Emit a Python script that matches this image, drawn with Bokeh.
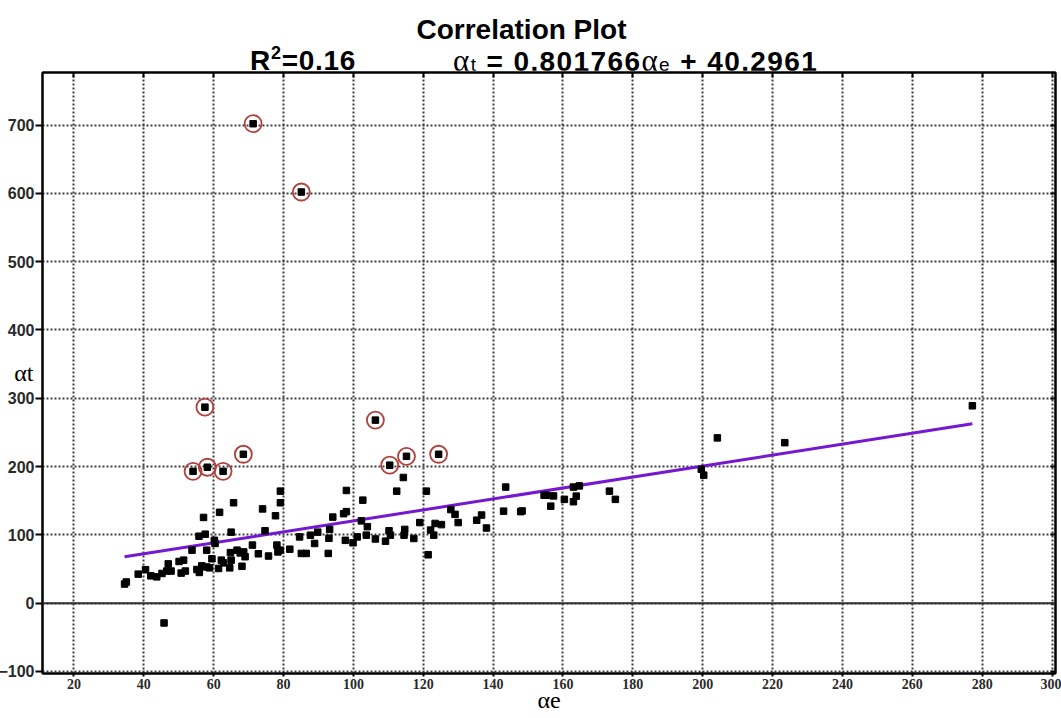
from bokeh.plotting import figure
from bokeh.models import Range1d, Span, FixedTicker, Div, LinearAxis, CustomJSTickFormatter
from bokeh.layouts import column
from bokeh.embed import file_html
from bokeh.resources import INLINE

# ---- data ----
alpha_e = [34.5, 35.0, 38.4, 40.5, 42.0, 43.7, 45.2, 46.6, 47.8, 47.0, 50.1, 51.4, 50.7, 51.9,
           53.8, 55.2, 55.9, 57.1, 55.8, 57.6, 58.0, 56.6, 58.0, 58.8, 60.2, 60.4, 59.5, 61.7,
           61.4, 62.2, 62.8, 64.8, 65.7, 65.0, 65.0, 66.7, 67.6, 68.6, 64.6, 68.1, 69.0, 71.1,
           72.8, 74.0, 74.7, 75.7, 77.7, 78.1, 78.4, 79.1, 79.1, 79.1, 81.8, 84.6, 85.1, 86.5,
           87.7, 88.9, 89.8, 92.8, 93.0, 93.2, 94.1, 97.7, 97.2, 98.0, 98.0, 99.9, 101.1, 102.3,
           102.7, 104.0, 103.7, 106.3, 109.2, 110.2, 110.6, 112.4, 114.3, 114.5, 114.7, 117.3,
           119.0, 120.9, 121.4, 122.1, 123.0, 123.4, 125.2, 127.9, 129.1, 130.0, 135.3, 136.7,
           138.1, 143.6, 143.0, 147.9, 148.3, 154.6, 155.3, 156.5, 157.3, 160.4, 163.0, 164.7,
           163.0, 163.8, 173.3, 175.0, 199.6, 200.3, 204.2, 223.5, 277.2, 45.8]
alpha_t = [28, 31, 42.5, 49, 40, 38.5, 43.5, 47, 47, 57.5, 61, 63, 44, 47,
           77.6, 49.3, 45, 125.5, 98, 101, 77.6, 54.6, 53, 51.7, 92, 87.4, 65, 133,
           50.8, 63, 59, 74, 147, 104, 63, 77.6, 73.6, 75, 51.7, 54, 68, 85,
           72.3, 138, 106, 69, 128, 85, 75, 77.6, 164, 147, 79, 97, 72.8, 72.8,
           99.5, 87.4, 104, 72.8, 95, 108, 126, 92, 131, 134, 165, 88.4, 97, 120.5,
           150.8, 112, 99.6, 94, 90.8, 106, 99.6, 164, 184, 99.6, 108, 94.7,
           118, 164, 70.8, 107, 99.6, 116.7, 115, 137, 130, 118, 121.5, 129,
           110, 170, 134.7, 134, 135, 158, 158, 142, 157, 152, 170, 171.7,
           148.5, 156.7, 164, 152, 196, 187.4, 242, 235, 289, -29]

# circled (highlighted) points
outlier_e = [71.3, 85.1, 57.5, 54.1, 58.2, 62.7, 68.5, 106.3, 110.4, 115.2, 124.4]
outlier_t = [702, 602, 287, 193, 199, 193, 218, 268, 202, 215, 218]

slope = 0.801766
intercept = 40.2961
r_squared = 0.16

x_ticks = [20, 40, 60, 80, 100, 120, 140, 160, 180, 200, 220, 240, 260, 280, 300]
y_ticks = [-100, 0, 100, 200, 300, 400, 500, 600, 700]

title_text = "Correlation Plot"
x_label = "\u03b1e"
y_label = "\u03b1t"

SERIF = "'Liberation Serif', 'DejaVu Serif', serif"
SANS = "'Liberation Sans', Arial, sans-serif"

header_html = f"""
<div style="position:relative;width:1061px;height:70px;overflow:visible;font-family:{SANS};font-weight:bold;color:#000;">
  <div style="position:absolute;left:0;top:16px;width:1043px;text-align:center;font-size:28px;line-height:28px;white-space:nowrap;">{title_text}</div>
  <div style="position:absolute;left:250px;top:47px;font-size:28px;line-height:28px;letter-spacing:0.7px;white-space:nowrap;">R<span style="font-size:18px;position:relative;top:-11px;">2</span>={r_squared:.2f}</div>
  <div style="position:absolute;left:453px;top:47px;font-size:28px;line-height:28px;letter-spacing:1.4px;white-space:nowrap;"><span style="font-family:{SERIF};font-weight:normal;font-size:31px;">\u03b1</span><span style="font-weight:normal;font-size:19px;">t</span> = {slope:.6f}<span style="font-family:{SERIF};font-weight:normal;font-size:31px;">\u03b1</span><span style="font-weight:normal;font-size:19px;">e</span> + {intercept:.4f}</div>
</div>
"""
header = Div(text=header_html, width=1061, height=70, margin=(0, 0, 0, 0))

# ---- figure ----
p = figure(width=1061, height=648, output_backend="svg", toolbar_location=None,
           x_range=Range1d(11, 301), y_range=Range1d(-103, 777),
           min_border_left=42, min_border_right=6, min_border_top=2, min_border_bottom=45,
           background_fill_color="white", border_fill_color="white", margin=(0, 0, 0, 0))

p.outline_line_color = "black"
p.outline_line_width = 2

p.xaxis.ticker = FixedTicker(ticks=x_ticks)
p.yaxis.ticker = FixedTicker(ticks=y_ticks)
p.xgrid.ticker = FixedTicker(ticks=x_ticks)
p.ygrid.ticker = FixedTicker(ticks=y_ticks)

for ax in (p.xaxis, p.yaxis):
    ax.axis_line_color = "black"
    ax.axis_line_width = 2
    ax.major_tick_line_color = "black"
    ax.major_tick_line_width = 2
    ax.minor_tick_line_color = None
    ax.major_tick_in = 0
    ax.major_label_text_font = "Liberation Sans"
    ax.major_label_text_font_style = "bold"
    ax.major_label_text_color = "#2a2a2a"
    ax.axis_label_text_font = "Liberation Serif"
    ax.axis_label_text_font_style = "normal"
    ax.axis_label_text_font_size = "24px"
    ax.axis_label_text_color = "black"

p.yaxis.major_tick_out = 7
p.yaxis.major_label_standoff = 1
p.yaxis.major_label_text_font_size = "16px"
p.yaxis.axis_label = y_label
p.yaxis.axis_label_orientation = "horizontal"
p.yaxis.axis_label_standoff = -38

p.xaxis.major_tick_out = 3
p.xaxis.major_label_standoff = 2
p.xaxis.major_label_text_font = "Liberation Sans Narrow"
p.xaxis.major_label_text_font_size = "14px"
p.xaxis.axis_label = x_label
p.xaxis.axis_label_standoff = -5

# unlabeled inner ticks on the top and right edges
blank = CustomJSTickFormatter(code="return ''")
top_axis = LinearAxis(ticker=FixedTicker(ticks=x_ticks), formatter=blank,
                      major_tick_in=5, major_tick_out=0, major_label_standoff=0,
                      major_label_text_font_size="0px", minor_tick_line_color=None,
                      axis_line_color="black", axis_line_width=2,
                      major_tick_line_color="black", major_tick_line_width=2)
right_axis = LinearAxis(ticker=FixedTicker(ticks=y_ticks), formatter=blank,
                        major_tick_in=5, major_tick_out=0, major_label_standoff=0,
                        major_label_text_font_size="0px", minor_tick_line_color=None,
                        axis_line_color="black", axis_line_width=2,
                        major_tick_line_color="black", major_tick_line_width=2)
p.add_layout(top_axis, "above")
p.add_layout(right_axis, "right")

p.grid.grid_line_color = "#3c3c3c"
p.grid.grid_line_width = 2
p.grid.grid_line_dash = "2 2"

p.add_layout(Span(location=0, dimension="width", line_color="#333333", line_width=2))

# regression line over the data extent
all_e = alpha_e + outlier_e
xs = [min(all_e), max(all_e)]
ys = [slope * x + intercept for x in xs]
p.line(xs, ys, line_color="#7418d2", line_width=3)

p.scatter(alpha_e, alpha_t, marker="square", size=6.5, color="black")
p.scatter(outlier_e, outlier_t, marker="circle", size=17, fill_color=None,
          line_color="#b0403c", line_width=1.8)
p.scatter(outlier_e, outlier_t, marker="square", size=6.5, color="black")

layout = column(header, p, spacing=0)
open("out.html", "w").write(file_html(layout, INLINE))
